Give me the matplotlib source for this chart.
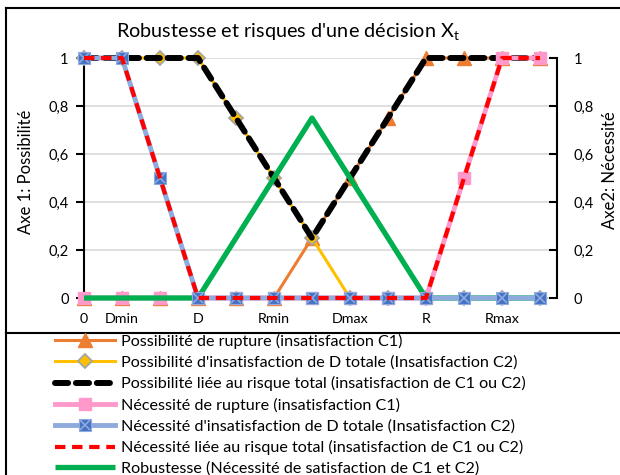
import matplotlib
matplotlib.use("Agg")
import matplotlib.pyplot as plt
from matplotlib.lines import Line2D
from matplotlib.legend_handler import HandlerTuple

plt.rcParams['font.family'] = ['Lato', 'DejaVu Sans']
plt.rcParams['mathtext.fontset'] = 'custom'
plt.rcParams['mathtext.rm'] = 'Lato'
plt.rcParams['mathtext.it'] = 'Lato:italic'
plt.rcParams['mathtext.default'] = 'regular'

# ---- data ----
categories = ["0", "Dmin", "", "D", "", "Rmin", "", "Dmax", "", "R", "", "Rmax", ""]
poss_rupture = [0, 0, 0, 0, 0, 0, 0.25, 0.5, 0.75, 1, 1, 1, 1]
poss_insat_d = [1, 1, 1, 1, 0.75, 0.5, 0.25, 0, 0, 0, 0, 0, 0]
poss_total = [1, 1, 1, 1, 0.75, 0.5, 0.25, 0.5, 0.75, 1, 1, 1, 1]
nec_rupture = [0, 0, 0, 0, 0, 0, 0, 0, 0, 0, 0.5, 1, 1]
nec_insat_d = [1, 1, 0.5, 0, 0, 0, 0, 0, 0, 0, 0, 0, 0]
nec_total = [1, 1, 0.5, 0, 0, 0, 0, 0, 0, 0, 0.5, 1, 1]
robustesse = [0, 0, 0, 0, 0.25, 0.5, 0.75, 0.5, 0.25, 0, 0, 0, 0]
y_ticks = [0, 0.2, 0.4, 0.6, 0.8, 1]
y_ticklabels = ["0", "0,2", "0,4", "0,6", "0,8", "1"]
labels = [
    "Possibilité de rupture (insatisfaction C1)",
    "Possibilité d'insatisfaction de D totale (Insatisfaction C2)",
    "Possibilité liée au risque total (insatisfaction de C1 ou C2)",
    "Nécessité de rupture (insatisfaction C1)",
    "Nécessité d'insatisfaction de D totale (Insatisfaction C2)",
    "Nécessité liée au risque total (insatisfaction de C1 ou C2)",
    "Robustesse (Nécessité de satisfaction de C1 et C2)",
]
title = "Robustesse et risques d'une décision X$_t$"

W, H = 620, 475
fig = plt.figure(figsize=(W / 100, H / 100), dpi=100)
px = lambda x: x / W
py = lambda y: 1 - y / H

ax = fig.add_axes([px(84), py(298), px(557) - px(84), py(58) - py(298)])
x = list(range(len(categories)))

l1, = ax.plot(x, poss_rupture, color='#ED7D31', lw=2.2, marker='^', ms=10,
              mfc='#ED7D31', mec='#ED7D31', zorder=2, clip_on=False)
l2, = ax.plot(x, poss_insat_d, color='#FFC000', lw=2.2, marker='D', ms=7.5,
              mfc='#FFC000', mec='#A5A5A5', mew=1.3, zorder=3, clip_on=False)
l3, = ax.plot(x, poss_total, color='black', lw=4.3, ls=(0, (2.2, 1.3)),
              dash_capstyle='round', zorder=4, clip_on=False)
l4, = ax.plot(x, nec_rupture, color='#FF99CC', lw=3.5, marker='s', ms=8,
              mfc='#FF99CC', mec='#FF99CC', zorder=5, clip_on=False)
l7, = ax.plot(x, robustesse, color='#00B050', lw=3.8, zorder=6,
              solid_capstyle='butt', clip_on=False)
l5a, = ax.plot(x, nec_insat_d, color='#8FAADC', lw=3.5, marker='s', ms=8.5,
               mfc='#4472C4', mec='#8FAADC', mew=0.8, zorder=7, clip_on=False)
l5b, = ax.plot(x, nec_insat_d, ls='none', marker='x', ms=7, mec='#8FAADC',
               mew=1.2, zorder=7.1, clip_on=False)
l6, = ax.plot(x, nec_total, color='#FF0000', lw=3.0, ls=(0, (2.5, 1.6)),
              zorder=8, clip_on=False)

ax.set_xlim(0, 12.447)
ax.set_ylim(0, 1)
ax.set_yticks(y_ticks)
ax.set_yticklabels(y_ticklabels, fontsize=10.5)
ax.set_xticks(x)
ax.set_xticklabels(categories, fontsize=10.3)
ax.tick_params(axis='x', length=0, pad=11)
ax.tick_params(axis='y', direction='out', length=6, width=1.5, pad=5)
ax.grid(axis='y', color='#D9D9D9', lw=1.2, zorder=0)
ax.set_axisbelow(True)
for s in ['top', 'bottom', 'right']:
    ax.spines[s].set_visible(False)
ax.spines['left'].set_linewidth(1.5)

ax2 = ax.twinx()
ax2.set_ylim(0, 1)
ax2.set_yticks(y_ticks)
ax2.set_yticklabels(y_ticklabels, fontsize=10.5)
ax2.tick_params(axis='y', direction='in', length=6, width=1.5, pad=12)
for s in ['top', 'bottom', 'left']:
    ax2.spines[s].set_visible(False)
ax2.spines['right'].set_linewidth(1.5)

fig.text(px(26), py(172), "Axe 1: Possibilité", rotation=90, ha='center',
         va='center', fontsize=12)
fig.text(px(610), py(170), "Axe2: Nécessité", rotation=90, ha='center',
         va='center', fontsize=12)
fig.text(px(288), py(37), title, ha='center', va='baseline', fontsize=14.3)

handles = [l1, l2, l3, l4, (l5a, l5b), l6, l7]
leg = fig.legend(handles, labels, loc='upper left',
                 bbox_to_anchor=(px(55), py(334)), frameon=False,
                 fontsize=11.6, handlelength=3.7, handletextpad=0.37,
                 labelspacing=0.40, borderaxespad=0, borderpad=0,
                 handler_map={tuple: HandlerTuple(ndivide=1, pad=0)})

# chart & legend borders
fig.add_artist(Line2D([px(6), px(6)], [py(8), 0], color='black', lw=1.5))
fig.add_artist(Line2D([px(6), 1], [py(8), py(8)], color='black', lw=1.5))
fig.add_artist(Line2D([px(6), 1], [py(333), py(333)], color='black', lw=1.5))

fig.savefig("out.png", dpi=100)
